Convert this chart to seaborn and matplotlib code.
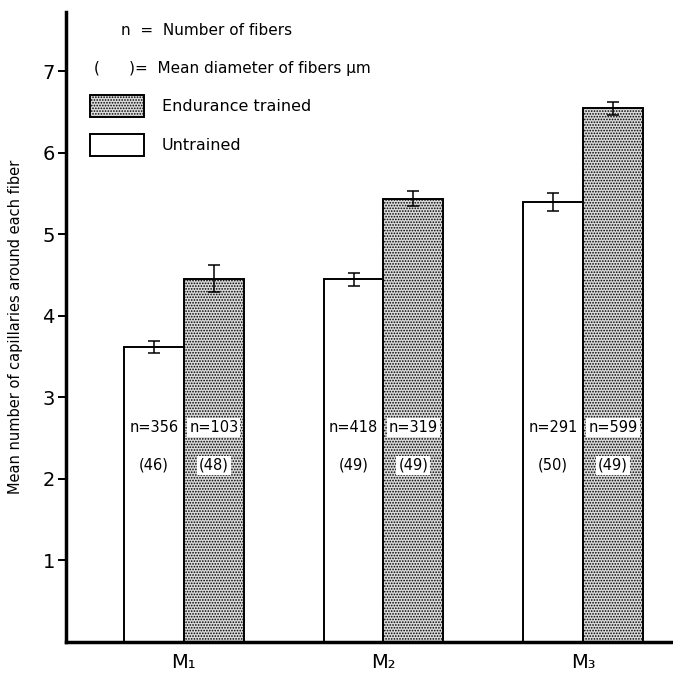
import matplotlib
matplotlib.use("Agg")
import matplotlib.pyplot as plt
import seaborn as sns
import pandas as pd
import numpy as np
from matplotlib.patches import Patch

muscles = ["M\u2081", "M\u2082", "M\u2083"]
groups = ["Untrained", "Endurance trained"]
untrained = [3.62, 4.45, 5.40]
trained = [4.46, 5.44, 6.55]
untrained_err = [0.07, 0.08, 0.11]
trained_err = [0.17, 0.09, 0.08]
n_untrained = [356, 418, 291]
n_trained = [103, 319, 599]
diam_untrained = [46, 49, 50]
diam_trained = [48, 49, 49]
yticks = [1, 2, 3, 4, 5, 6, 7]

df = pd.DataFrame({
    "muscle": muscles * 2,
    "group": [groups[0]] * 3 + [groups[1]] * 3,
    "value": untrained + trained,
    "err": untrained_err + trained_err,
    "n": n_untrained + n_trained,
    "diam": diam_untrained + diam_trained,
})

sns.set_style("white")
plt.rcParams["font.family"] = ["DejaVu Sans"]
plt.rcParams["text.color"] = "black"
plt.rcParams["axes.labelcolor"] = "black"
plt.rcParams["xtick.color"] = "black"
plt.rcParams["ytick.color"] = "black"
plt.rcParams["axes.edgecolor"] = "black"
plt.rcParams["hatch.color"] = "#555555"
plt.rcParams["hatch.linewidth"] = 0.8

fig = plt.figure(figsize=(6.73, 6.77), dpi=100)
ax = fig.add_axes([66 / 673, 35 / 677, 1 - 66 / 673, (642 - 12) / 677])

sns.barplot(data=df, x="muscle", y="value", hue="group", order=muscles,
            hue_order=groups, palette={groups[0]: "white", groups[1]: "#dadada"},
            width=0.6, gap=0, errorbar=None, edgecolor="black", linewidth=1.4,
            legend=False, ax=ax)

bars = [p for p in ax.patches]
for i, p in enumerate(bars):
    row = df.iloc[i]
    cx = p.get_x() + p.get_width() / 2
    trained_bar = row["group"] == groups[1]
    if trained_bar:
        p.set_hatch("......")
    ax.errorbar(cx, row["value"], yerr=row["err"], color="black", lw=1.1,
                capsize=4, capthick=1.1, zorder=5)
    box = dict(facecolor="white", edgecolor="none", pad=1.5) if trained_bar else None
    ax.text(cx, 2.63, f"n={row['n']}", ha="center", va="center", fontsize=10.5,
            bbox=box, zorder=6)
    ax.text(cx, 2.17, f"({row['diam']})", ha="center", va="center", fontsize=10.5,
            bbox=box, zorder=6)

ax.set_xlim(-0.59, 2.45)
ax.set_ylim(0, 7.73)
ax.set_yticks(yticks)
ax.set_yticklabels([str(t) for t in yticks], fontsize=14)
ax.tick_params(axis="y", direction="out", length=6, width=1.4, left=True, pad=2)
ax.tick_params(axis="x", length=0, labelsize=14, pad=8)
ax.set_xlabel("")
ax.set_ylabel("Mean number of capillaries around each fiber", fontsize=10.5, labelpad=14)
for s in ["top", "right"]:
    ax.spines[s].set_visible(False)
ax.spines["left"].set_linewidth(2.5)
ax.spines["bottom"].set_linewidth(2.5)

ax.text(0.091, 0.97, "n  =  Number of fibers", transform=ax.transAxes,
        fontsize=11, va="center", ha="left")
ax.text(0.046, 0.91, "(      )=  Mean diameter of fibers \u03bcm", transform=ax.transAxes,
        fontsize=11, va="center", ha="left")
handles = [Patch(facecolor="#dadada", edgecolor="black", hatch="......", linewidth=1.4),
           Patch(facecolor="white", edgecolor="black", linewidth=1.4)]
ax.legend(handles, [groups[1], groups[0]], loc="upper left",
          bbox_to_anchor=(0.029, 0.878), frameon=False, fontsize=11.5,
          handlelength=3.4, handleheight=1.7, handletextpad=1.1, labelspacing=1.1,
          borderaxespad=0)

fig.savefig("out.png", dpi=100)
